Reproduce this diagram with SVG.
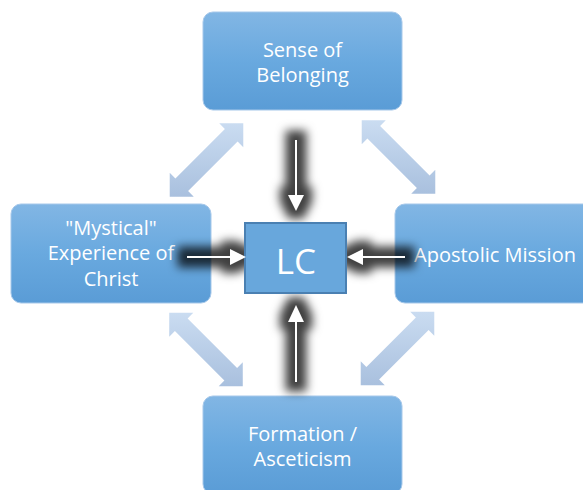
<svg xmlns="http://www.w3.org/2000/svg" width="583" height="490" viewBox="0 0 583 490">
<style>
.box{fill:url(#boxGrad);stroke:#a6c8ea;stroke-width:1}
.lbl{font-family:"Open Sans","Noto Sans","DejaVu Sans",sans-serif;font-size:20px;fill:#ffffff;text-anchor:middle}
.dbl{fill:url(#arrGrad)}
.sh{fill:#000;stroke:#000}
.wa{stroke:#ffffff;stroke-width:2;fill:none}
.wh{fill:#ffffff}
</style>
<defs>
<linearGradient id="boxGrad" x1="0" y1="0" x2="0" y2="1">
<stop offset="0" stop-color="#82b6e4"/>
<stop offset="0.5" stop-color="#69a9df"/>
<stop offset="1" stop-color="#5a9cd6"/>
</linearGradient>
<linearGradient id="arrGrad" x1="0" y1="0" x2="0" y2="1">
<stop offset="0" stop-color="#cadcf1"/>
<stop offset="1" stop-color="#a9c0de"/>
</linearGradient>
<filter id="glow" filterUnits="userSpaceOnUse" x="0" y="0" width="583" height="490">
<feMorphology in="SourceAlpha" operator="dilate" radius="7" result="d"/>
<feGaussianBlur in="d" stdDeviation="5" result="b"/>
<feFlood flood-color="#000000" flood-opacity="0.75"/>
<feComposite in2="b" operator="in"/>
</filter>
</defs>
<rect width="583" height="490" fill="#ffffff"/>

<g id="node-belonging">
<rect class="box" x="203" y="12" width="199" height="98" rx="10"/>
<text class="lbl" x="302.5" y="56.5">Sense of</text>
<text class="lbl" x="302.5" y="81.5">Belonging</text>
</g>
<g id="node-mystical">
<rect class="box" x="11" y="204" width="200" height="99" rx="10"/>
<text class="lbl" x="111" y="235">"Mystical"</text>
<text class="lbl" x="111" y="260">Experience of</text>
<text class="lbl" x="111" y="285.5">Christ</text>
</g>
<g id="node-apostolic">
<rect class="box" x="395" y="204" width="199" height="99" rx="10"/>
<text class="lbl" x="495" y="262">Apostolic Mission</text>
</g>
<g id="node-formation">
<rect class="box" x="203" y="396" width="199" height="98" rx="10"/>
<text class="lbl" x="302.5" y="441">Formation /</text>
<text class="lbl" x="302.5" y="466">Asceticism</text>
</g>

<g id="connectors">
<g id="diagonals">
<path class="dbl" transform="translate(206.5,160)" d="M36.77,-36.77 L12.73,-36.77 L18.38,-31.11 L-31.11,18.38 L-36.77,12.73 L-36.77,36.77 L-12.73,36.77 L-18.38,31.11 L31.11,-18.38 L36.77,-12.73 Z"/>
<path class="dbl" transform="translate(398.5,157)" d="M-36.77,-36.77 L-12.73,-36.77 L-18.38,-31.11 L31.11,18.38 L36.77,12.73 L36.77,36.77 L12.73,36.77 L18.38,31.11 L-31.11,-18.38 L-36.77,-12.73 Z"/>
<path class="dbl" transform="translate(206,349.5)" d="M-36.77,-36.77 L-12.73,-36.77 L-18.38,-31.11 L31.11,18.38 L36.77,12.73 L36.77,36.77 L12.73,36.77 L18.38,31.11 L-31.11,-18.38 L-36.77,-12.73 Z"/>
<path class="dbl" transform="translate(397.5,348.5)" d="M36.77,-36.77 L12.73,-36.77 L18.38,-31.11 L-31.11,18.38 L-36.77,12.73 L-36.77,36.77 L-12.73,36.77 L-18.38,31.11 L31.11,-18.38 L36.77,-12.73 Z"/>
</g>
<g id="glows" filter="url(#glow)">
<rect class="sh" x="293" y="138" width="6" height="60"/>
<polygon class="sh" points="287,194 305,194 296,212"/>
<rect class="sh" x="185" y="254" width="48" height="6"/>
<polygon class="sh" points="229,248 229,266 247,257"/>
<rect class="sh" x="360" y="254" width="47" height="6"/>
<polygon class="sh" points="364,248 364,266 346,257"/>
<rect class="sh" x="293" y="318" width="6" height="66"/>
<polygon class="sh" points="287,322 305,322 296,304"/>
</g>
</g>

<g id="node-lc">
<rect x="245" y="223" width="101" height="70" fill="#68a7dc" stroke="#4a80b2" stroke-width="2"/>
<text x="296" y="274" font-family="'Open Sans','Noto Sans',sans-serif" font-size="35" fill="#ffffff" text-anchor="middle">LC</text>
</g>

<g id="connectors-front">
<line class="wa" x1="296" y1="140" x2="296" y2="197"/>
<polygon class="wh" points="288,195 304,195 296,211"/>
<line class="wa" x1="187" y1="257" x2="232" y2="257"/>
<polygon class="wh" points="230,249 230,265 246,257"/>
<line class="wa" x1="405" y1="257" x2="361" y2="257"/>
<polygon class="wh" points="363,249 363,265 347,257"/>
<line class="wa" x1="296" y1="382" x2="296" y2="320"/>
<polygon class="wh" points="288,322 304,322 296,305"/>
</g>
</svg>
